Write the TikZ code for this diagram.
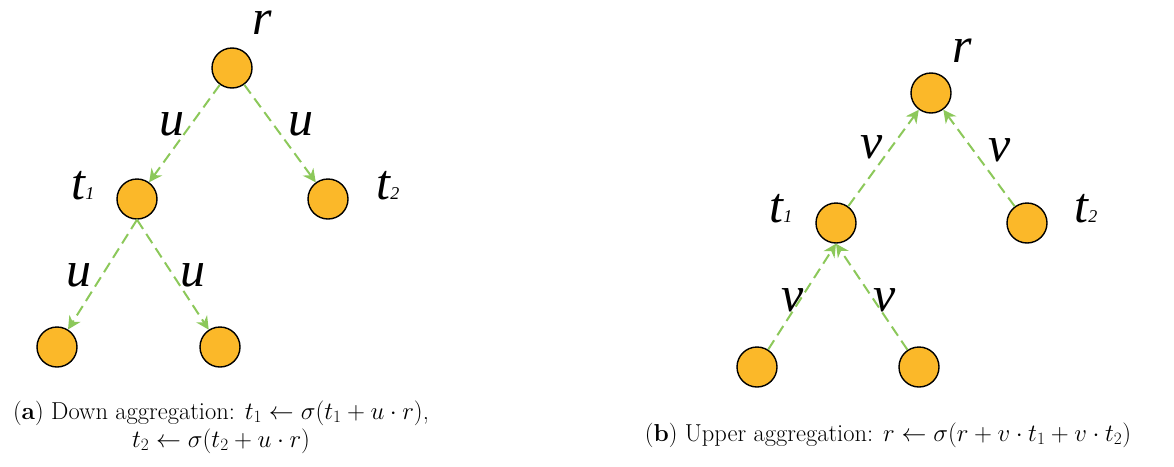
\documentclass[tikz,border=0pt]{standalone}
\usepackage{fontspec}
\usetikzlibrary{arrows.meta}
\newfontfamily\lblfont{Liberation Serif Italic}
\definecolor{nodeorange}{HTML}{FBB829}
\definecolor{edgegreen}{HTML}{8CC85A}
\tikzset{
  vertex/.style={circle,fill=nodeorange,draw=black,line width=1.4pt,minimum size=40pt,inner sep=0pt},
  flow/.style={draw=edgegreen,line width=2pt,dash pattern=on 11pt off 6pt,
    -{Stealth[length=13pt,width=13pt,fill=edgegreen]}},
  lbl/.style={anchor=base,inner sep=0pt,font=\fontsize{50}{50}\lblfont},
  captext/.style={inner sep=0pt,align=center,font=\fontsize{24.5}{28}\selectfont}
}
\newcommand{\tsub}[1]{t{\fontsize{18}{18}\selectfont #1}}
\begin{document}
\begin{tikzpicture}[x=1pt,y=-1pt]
  \useasboundingbox (0,0) rectangle (1174,466);

  % (a) down aggregation
  \node[vertex] (ar) at (232,68) {};
  \node[vertex] (at1) at (137,199) {};
  \node[vertex] (at2) at (328,199) {};
  \node[vertex] (abl) at (57,347) {};
  \node[vertex] (abr) at (220,347) {};

  \node[lbl] (arl) at (262,34) {r};
  \node[lbl] (at1l) at (83,199) {\tsub{1}};
  \node[lbl] (at2l) at (388,199) {\tsub{2}};
  \foreach \name/\x/\y in {au1/172/135, au2/301/135, au3/79/286, au4/193/286}
    \node[lbl] (\name) at (\x,\y) {u};

  \foreach \from/\to in {ar/at1, ar/at2, at1.south/abl, at1.south/abr}
    \draw[flow] (\from) -- (\to);

  \node[captext] (acap) at (221,427) {(\textbf{a}) Down aggregation: $t_1 \leftarrow \sigma(t_1 + u\cdot r)$,\\
    $t_2 \leftarrow \sigma(t_2 + u\cdot r)$};

  % (b) upper aggregation
  \node[vertex] (br) at (931,93) {};
  \node[vertex] (bt1) at (836,223) {};
  \node[vertex] (bt2) at (1027,223) {};
  \node[vertex] (bbl) at (757,367) {};
  \node[vertex] (bbr) at (919,367) {};

  \node[lbl] (brl) at (962,62) {r};
  \node[lbl] (bt1l) at (781,222) {\tsub{1}};
  \node[lbl] (bt2l) at (1086,222) {\tsub{2}};
  \foreach \name/\x/\y in {bv1/872/158, bv2/1000/161, bv3/793/311, bv4/885/311}
    \node[lbl] (\name) at (\x,\y) {v};

  \foreach \from/\to in {bt1/br, bt2/br, bbl/bt1.south, bbr/bt1.south}
    \draw[flow] (\from) -- (\to);

  \node[captext] (bcap) at (888,435) {(\textbf{b}) Upper aggregation: $r \leftarrow \sigma(r + v\cdot t_1 + v\cdot t_2)$};
\end{tikzpicture}
\end{document}
